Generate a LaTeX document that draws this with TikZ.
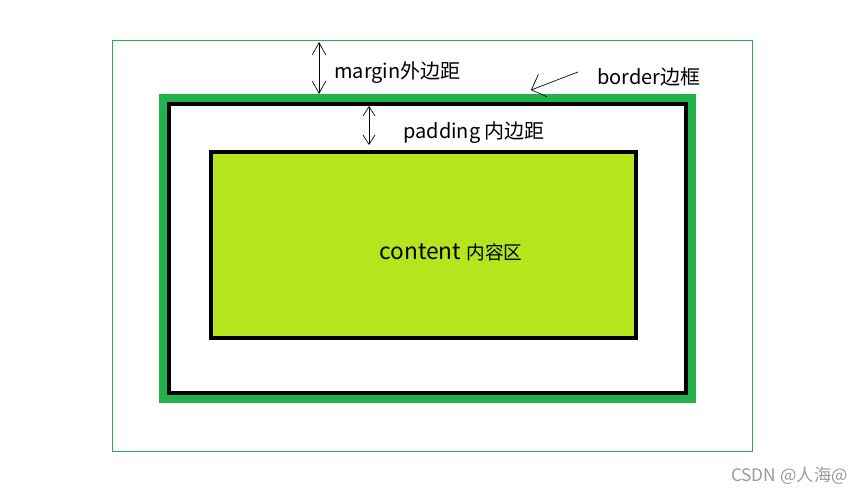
\documentclass[tikz,border=0pt]{standalone}
\usepackage{fontspec}
\setmainfont{Noto Sans CJK SC}
\usepackage{xcolor}
\usepackage{tikz}
\usetikzlibrary{arrows.meta,positioning}
\definecolor{paintgreen}{HTML}{22B14C}
\definecolor{paintlime}{HTML}{B5E61D}
\definecolor{markgray}{HTML}{9A9A9A}
\tikzset{
  mline/.style={line width=0.75pt,draw=paintgreen},
  bline/.style={line width=3pt,draw=black},
  marr/.style={{Straight Barb[length=9pt,width=10pt]}-{Straight Barb[length=9pt,width=10pt]},line width=0.5pt},
  parr/.style={{Straight Barb[length=7pt,width=9pt]}-{Straight Barb[length=7pt,width=9pt]},line width=0.5pt},
  barr/.style={-{Straight Barb[length=9pt,width=18pt]},line width=0.5pt},
  mlabel/.style={anchor=west,inner sep=0pt,font=\fontsize{15pt}{18pt}\selectfont}
}
\begin{document}
\begin{tikzpicture}[x=0.75pt,y=-0.75pt]
  \useasboundingbox (0,0) rectangle (863,496);
  % margin, border, padding, content
  \draw[mline] (112,40) rectangle (752,451);
  \fill[paintgreen] (159,94) rectangle (696,403);
  \draw[bline,fill=white] (169,104) rectangle (686,393);
  \draw[bline,fill=paintlime] (211,152) rectangle (636,338);
  % arrow ends
  \coordinate (mtop) at (319,42);
  \coordinate (mbot) at (319,94);
  \coordinate (ptop) at (369,106);
  \coordinate (pbot) at (369,145);
  \coordinate (btail) at (578,72);
  \coordinate (btip) at (531,90);
  \draw[marr] (mtop) -- (mbot);
  \draw[parr] (ptop) -- (pbot);
  \draw[barr] (btail) -- (btip);
  % labels
  \node[mlabel] (mtext) at (334,73) {margin外边距};
  \node[mlabel] (ptext) at (403,133) {padding 内边距};
  \node[mlabel] (btext) at (597,77) {border边框};
  \node[inner sep=0pt] (ctext) at (451,252) {\fontsize{17pt}{20pt}\selectfont content \fontsize{14pt}{18pt}\selectfont 内容区};
  \node[anchor=east,inner sep=0pt,text=markgray,font=\fontsize{13pt}{15pt}\selectfont] (wmark) at (848,476) {CSDN @人海@};
\end{tikzpicture}
\end{document}
